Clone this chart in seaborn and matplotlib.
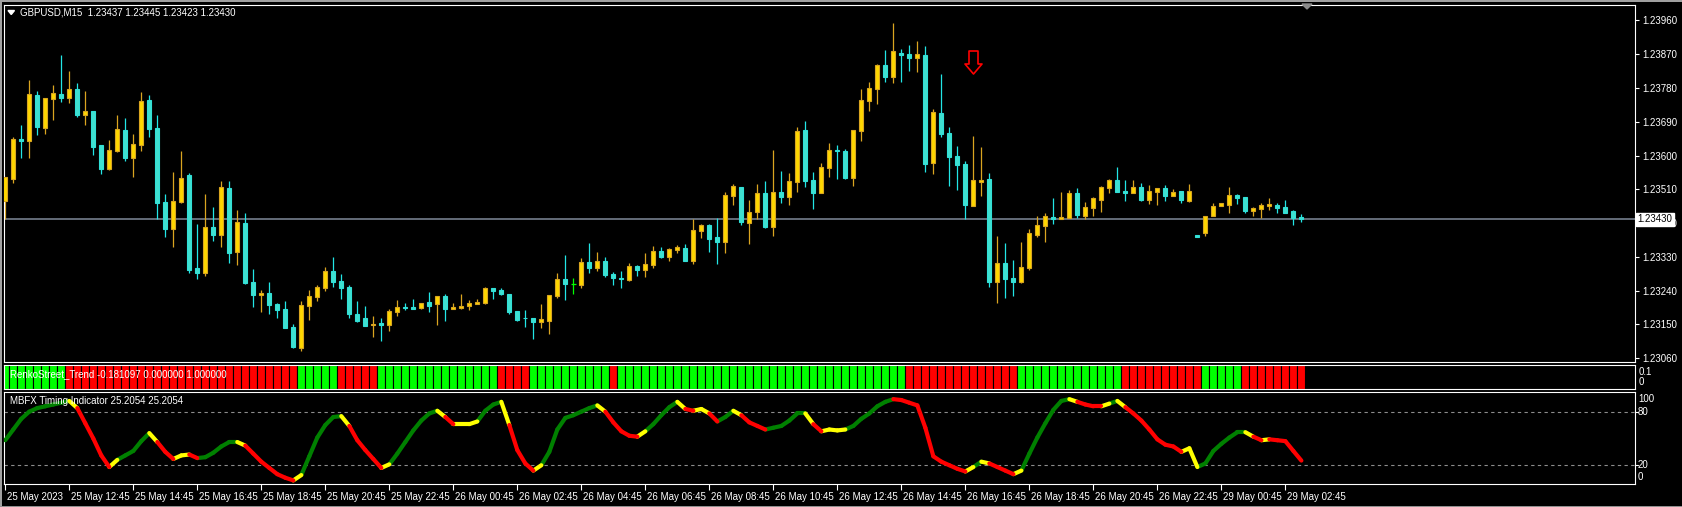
import numpy as np
import pandas as pd
import matplotlib
matplotlib.use("Agg")
import matplotlib.pyplot as plt
import seaborn as sns
from matplotlib.path import Path
from matplotlib.patches import Polygon, Rectangle
import matplotlib.transforms as mtransforms

# ---------------- data (prices in points above 1.23000) ----------------
PRICE_BASE = 1.23000
POINT = 0.00001

open_pts = [480,538,644,639,761,674,751,764,754,777, 709,718,628,565,613,668,594,629,748,673,
            476,405,477,548,300,288,409,389,513,344, 420,263,229,234,204,191,144,88,200,224,
            248,292,266,250,178,167,149,154,149,184, 196,196,195,210,205,226,192,195,200,205,
            208,247,242,231,186,168,167,157,160,227, 271,258,256,316,301,319,284,274,269,306,
            296,309,346,330,349,354,320,400,415,383, 370,493,516,421,450,500,410,503,490,530,
            668,535,501,567,615,612,541,666,746,778, 841,810,873,870,860,868,581,713,660,599,
            577,466,530,537,264,314,274,264,301,389, 413,436,432,434,500,440,461,482,514,535,
            505,501,516,482,504,513,493,505,480,387, 394,440,466,469,495,489,453,458,466,468,
            463,452,437]
high_pts = [543,649,681,801,772,753,788,868,825,793, 772,718,628,641,708,700,657,769,761,708,
            497,556,612,553,417,497,463,532,532,455, 447,298,242,263,208,213,151,212,242,255,
            303,330,284,255,212,199,172,167,191,215, 207,218,207,236,226,231,207,231,215,218,
            250,247,247,231,186,189,167,204,228,287, 335,274,327,367,343,330,290,292,314,308,
            340,359,356,354,362,364,431,417,417,433, 503,524,516,481,524,532,615,559,553,676,
            692,556,580,633,628,617,668,777,796,844, 881,953,883,894,905,891,724,817,676,625,
            585,652,622,553,386,367,322,370,404,439, 447,487,503,508,513,476,489,519,537,569,
            535,535,527,521,513,521,511,505,524,387, 439,473,473,516,497,489,463,473,487,473,
            481,455,445]
low_pts = [430,528,594,594,655,658,695,743,741,703, 682,602,551,562,610,586,543,613,650,430,
           384,357,474,288,272,280,373,357,314,309, 259,197,184,179,168,141,88,78,163,213,
           240,251,219,168,157,147,117,107,133,173, 189,192,192,184,149,160,192,192,189,205,
           205,219,229,179,160,144,110,141,125,221, 216,232,248,288,293,277,256,248,267,280,
           277,301,328,320,341,320,312,381,344,312, 341,469,416,365,432,408,386,474,469,504,
           517,458,501,544,538,538,520,639,719,738, 797,794,797,826,823,557,551,650,520,509,
           430,466,493,251,208,221,227,261,296,384, 370,418,432,434,434,432,440,450,501,504,
           480,501,480,472,469,480,493,474,477,384, 386,440,466,448,472,448,440,434,456,448,
           448,416,423]
close_pts = [542,644,639,764,677,753,766,754,777,709, 718,623,565,614,670,594,630,745,671,474,
             405,479,540,296,288,409,389,516,341,423, 261,229,234,203,189,141,91,202,226,250,
             292,264,248,179,160,147,151,149,186,196, 195,192,207,200,226,192,197,199,207,210,
             247,240,232,184,163,166,157,164,228,271, 259,258,316,301,319,283,275,271,306,296,
             311,346,330,351,356,320,401,415,378,370, 495,519,424,449,500,410,503,490,532,665,
             533,501,569,615,613,541,668,748,780,841, 810,878,868,860,870,578,716,658,597,575,
             469,535,536,264,314,272,264,303,394,415, 439,431,436,500,442,463,487,516,535,504,
             501,516,481,505,513,493,504,482,505,384, 439,465,473,495,488,453,460,468,472,461,
             448,434,430]

# RenkoStreet trend state per bar (g = up / green, r = down / red)
renko_state = ("g" * 8 + "r" * 29 + "g" * 5 + "r" * 5 + "g" * 15 + "r" * 4 + "g" * 10 + "r" * 1 +
               "g" * 36 + "r" * 14 + "g" * 13 + "r" * 10 + "g" * 5 + "r" * 8)

# MBFX Timing indicator value per bar
mbfx = [48,60,72,80,84,86,88,90,92,84, 67,50,31,18,26,31,36,47,56,46,
        35,27,31,32,28,29,34,41,46,46, 42,33,24,17,10,6,3,9,30,51,
        65,74,75,64,48,37,27,17,21,33, 46,59,70,78,81,74,66,66,66,69,
        81,88,91,65,37,22,14,20,35,60, 73,76,80,84,87,80,68,58,53,52,
        58,66,76,85,91,83,81,83,78,69, 74,81,76,68,64,60,62,64,70,78,
        78,66,58,60,59,60,64,72,78,86, 91,94,93,90,87,62,30,24,20,16,
        13,18,24,22,18,14,10,14,33,51, 67,82,92,94,91,88,86,86,89,92,
        85,78,70,60,49,43,41,35,39,18, 22,36,44,51,57,57,52,48,49,48,
        47,36,25.2]
# colour of each segment (bar i -> i+1): g green, y yellow, r red
mbfx_seg = ("gggggggg" "y" "rrrr" "y" "gggg" "y" "rr" "yy" "r" "g" "gggg" "y" "rrrrrr" "y"
            "ggggg" "y" "rrrr" "y" "gggggg" "y" "r" "yyy" "ggg" "y" "rrr" "y" "ggggggg" "y"
            "rrrr" "y" "gggg" "y" "r" "yy" "r" "gg" "y" "rrr" "ggggg" "y" "r" "yyy" "gggggg"
            "rrrrrrrrr" "y" "g" "y" "rrr" "y" "gggggg" "y" "rrr" "y" "g" "y" "rrrrrrr" "yy"
            "gggggg" "y" "r" "y" "rrrr")

price_ticks = [1.23060, 1.23150, 1.23240, 1.23330, 1.23420, 1.23510,
               1.23600, 1.23690, 1.23780, 1.23870, 1.23960]
bid_price = 1.23430
arrow_bar = 121
arrow_price = 1.23850

time_tick_bars = list(range(0, 161, 8))
time_labels = ["25 May 2023", "25 May 12:45", "25 May 14:45", "25 May 16:45", "25 May 18:45",
               "25 May 20:45", "25 May 22:45", "26 May 00:45", "26 May 02:45", "26 May 04:45",
               "26 May 06:45", "26 May 08:45", "26 May 10:45", "26 May 12:45", "26 May 14:45",
               "26 May 16:45", "26 May 18:45", "26 May 20:45", "26 May 22:45", "29 May 00:45",
               "29 May 02:45"]

title_text = "GBPUSD,M15  1.23437 1.23445 1.23423 1.23430"
renko_text = "RenkoStreet_Trend -0.181097 0.000000 1.000000"
mbfx_text = "MBFX Timing Indicator 25.2054 25.2054"

# ---------------- style ----------------
sns.set_style("dark", {"axes.facecolor": "black", "figure.facecolor": "black",
                       "axes.edgecolor": "white", "text.color": "white",
                       "xtick.color": "white", "ytick.color": "white"})
plt.rcParams["font.family"] = ["Liberation Sans", "DejaVu Sans"]
FS = 7.0

W, H = 1682, 507
fig = plt.figure(figsize=(W / 100, H / 100), dpi=100, facecolor="black")


def fx(x):
    return x / W


def fy(y):
    return 1 - y / H


def rect(x0, y0, x1, y1):
    return [fx(x0), fy(y1), (x1 - x0) / W, (y1 - y0) / H]


ax1 = fig.add_axes(rect(4, 5, 1635, 362))
ax2 = fig.add_axes(rect(4, 365, 1635, 389))
ax3 = fig.add_axes(rect(4, 392, 1635, 484))

XL = (-0.16, 203.7)
for ax in (ax1, ax2, ax3):
    ax.set_facecolor("black")
    ax.set_xlim(*XL)
    for sp in ax.spines.values():
        sp.set_color("white")
        sp.set_linewidth(0.8)
        sp.set_visible(True)
    ax.grid(False)

# ---------------- candles ----------------
o = PRICE_BASE + np.array(open_pts) * POINT
h = PRICE_BASE + np.array(high_pts) * POINT
l = PRICE_BASE + np.array(low_pts) * POINT
c = PRICE_BASE + np.array(close_pts) * POINT
n = len(o)
x = np.arange(n)
bull = c > o
bear = c < o
doji = c == o
min_h = 2.0e-5
bot = np.minimum(o, c)
bh = np.maximum(np.abs(c - o), min_h)

ax1.axhline(bid_price, color="#7F8A99", lw=1.1, zorder=1)

ax1.vlines(x[bull], l[bull], h[bull], color="#DAA520", lw=0.9, zorder=2)
ax1.bar(x[bull], bh[bull], bottom=bot[bull], width=0.5, color="#FFD700",
        edgecolor="#DAA520", linewidth=0.8, zorder=3)
ax1.vlines(x[bear], l[bear], h[bear], color="#22E6E6", lw=0.9, zorder=2)
ax1.bar(x[bear], bh[bear], bottom=bot[bear], width=0.5, color="#40E0D0",
        edgecolor="#30E0D8", linewidth=0.8, zorder=3)
ax1.vlines(x[doji], l[doji], h[doji], color="#00FF00", lw=0.9, zorder=2)
ax1.hlines(c[doji], x[doji] - 0.3, x[doji] + 0.3, color="#00FF00", lw=0.9, zorder=3)

ax1.set_ylim(1.23050, 1.24001)
ax1.set_xticks([])
ax1.yaxis.tick_right()
ax1.set_yticks(price_ticks)
ax1.set_yticklabels([f"{t:.5f}" for t in price_ticks])
ax1.tick_params(axis="y", colors="white", length=3, width=0.8, pad=2,
                labelsize=FS, direction="out", right=True, left=False)

# bid price box
trans = mtransforms.blended_transform_factory(ax1.transAxes, ax1.transData)
ax1.text(1.0 + 2.5 / 1631, bid_price, f"{bid_price:.5f}", transform=trans, ha="left",
         va="center", fontsize=FS, color="black", zorder=20, clip_on=False,
         bbox=dict(boxstyle="square,pad=0.15", facecolor="white", edgecolor="white"))

# red down arrow (hollow)
verts = [(-4.5, 11.5), (4.5, 11.5), (4.5, -1.5), (8.5, -1.5), (0, -11.5),
         (-8.5, -1.5), (-4.5, -1.5), (-4.5, 11.5)]
codes = [Path.MOVETO] + [Path.LINETO] * 6 + [Path.CLOSEPOLY]
arrow_path = Path(verts, codes)
ax1.plot([arrow_bar], [arrow_price], marker=arrow_path, markersize=23 * 0.72,
         markerfacecolor="none", markeredgecolor="#FF0000", markeredgewidth=1.2,
         linestyle="none", zorder=5)

# ---------------- RenkoStreet trend bars ----------------
rcols = ["#00FF00" if s == "g" else "#FF0000" for s in renko_state]
ax2.bar(x, np.ones(n), bottom=0, width=1.0, color=rcols, edgecolor="black", linewidth=0.8)
ax2.set_ylim(0, 1)
ax2.set_xticks([])
ax2.set_yticks([])

# ---------------- MBFX timing ----------------
ax3.axhline(80, color="#8C8C8C", lw=0.8, ls=(0, (3, 3)), zorder=1)
ax3.axhline(20, color="#8C8C8C", lw=0.8, ls=(0, (3, 3)), zorder=1)
rows = []
for k, col in enumerate(mbfx_seg):
    rows.append({"seg": k, "x": k, "v": mbfx[k], "c": col})
    rows.append({"seg": k, "x": k + 1, "v": mbfx[k + 1], "c": col})
seg_df = pd.DataFrame(rows)
sns.lineplot(data=seg_df, x="x", y="v", hue="c", units="seg", estimator=None,
             palette={"g": "#008000", "y": "#FFFF00", "r": "#FF0000"},
             linewidth=3.0, legend=False, ax=ax3, sort=False,
             solid_capstyle="round", zorder=3)
ax3.set_xlim(*XL)
ax3.set_ylim(-1.0, 102.0)
ax3.set_xlabel("")
ax3.set_ylabel("")
ax3.set_yticks([])
ax3.set_xticks(time_tick_bars)
ax3.set_xticklabels(time_labels, ha="left")
ax3.tick_params(axis="x", colors="white", length=4, width=0.8, pad=2,
                labelsize=FS, direction="out", bottom=True)
offset = mtransforms.ScaledTranslation(1.5 / 100, 0, fig.dpi_scale_trans)
for lab in ax3.get_xticklabels():
    lab.set_transform(lab.get_transform() + offset)

# ---------------- text labels ----------------
fig.text(fx(20), fy(12.7), title_text, fontsize=FS, color="white", va="center", ha="left")
fig.add_artist(Polygon([(fx(8), fy(10.5)), (fx(14.5), fy(10.5)), (fx(11.25), fy(14.5))],
                       closed=True, transform=fig.transFigure, color="white"))
fig.text(fx(9.6), fy(374), renko_text, fontsize=FS, color="white", va="center", ha="left")
fig.text(fx(9.6), fy(400.7), mbfx_text, fontsize=FS, color="white", va="center", ha="left")

for s, yy in (("0.1", 372), ("0", 382)):
    fig.text(fx(1639), fy(yy), s, fontsize=FS, color="white", va="center", ha="left")
for s, yy in (("100", 399), ("80", 411.7), ("20", 465.3), ("0", 477)):
    fig.text(fx(1638), fy(yy), s, fontsize=FS, color="white", va="center", ha="left")
for yy in (411.7, 465.3):
    fig.add_artist(plt.Line2D([fx(1635), fx(1638)], [fy(yy), fy(yy)],
                              transform=fig.transFigure, color="white", lw=0.8))

# chart shift marker and window borders
fig.add_artist(Polygon([(fx(1302), fy(4)), (fx(1312), fy(4)), (fx(1307), fy(9))],
                       closed=True, transform=fig.transFigure, color="#8A8A8A"))
fig.add_artist(Rectangle((0, fy(2)), 1, 2 / H, transform=fig.transFigure,
                         facecolor="#A0A0A0", edgecolor="none"))
fig.add_artist(Rectangle((0, 0), 2 / W, 1, transform=fig.transFigure,
                         facecolor="#A0A0A0", edgecolor="none"))
fig.add_artist(Rectangle((0, 0), 1, 1.5 / H, transform=fig.transFigure,
                         facecolor="#909090", edgecolor="none"))

fig.savefig("out.png", dpi=100, facecolor="black")
